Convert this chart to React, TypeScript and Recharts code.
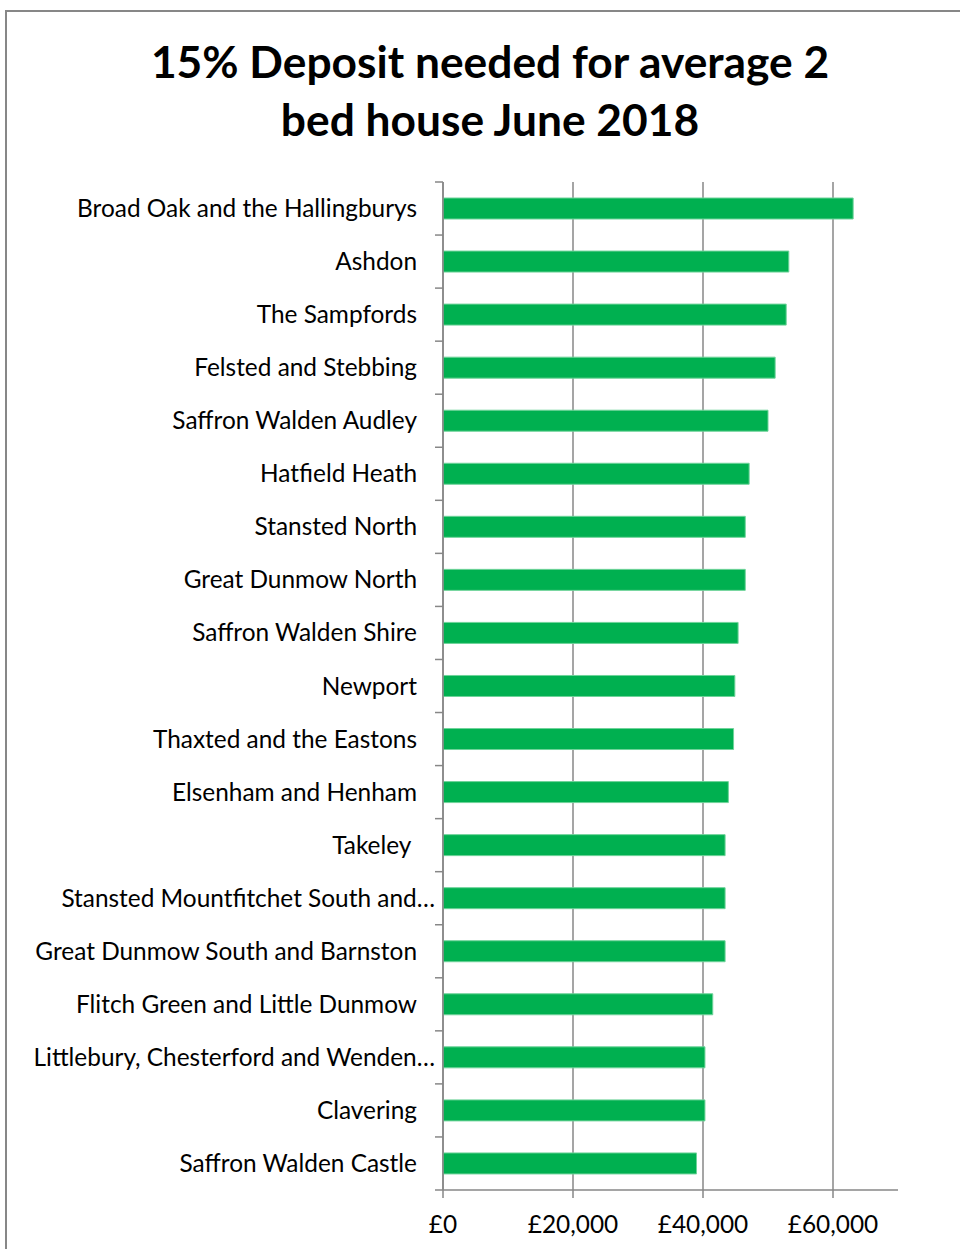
import { BarChart, Bar, XAxis, YAxis, CartesianGrid } from 'recharts';

const areas = [
  'Broad Oak and the Hallingburys',
  'Ashdon',
  'The Sampfords',
  'Felsted and Stebbing',
  'Saffron Walden Audley',
  'Hatfield Heath',
  'Stansted North',
  'Great Dunmow North',
  'Saffron Walden Shire',
  'Newport',
  'Thaxted and the Eastons',
  'Elsenham and Henham',
  'Takeley ',
  'Stansted Mountfitchet South and…',
  'Great Dunmow South and Barnston',
  'Flitch Green and Little Dunmow',
  'Littlebury, Chesterford and Wenden…',
  'Clavering',
  'Saffron Walden Castle',
];

const deposits = [
  63100, 53200, 52800, 51100, 50000, 47100, 46500, 46500, 45400, 44900,
  44700, 43900, 43400, 43400, 43400, 41500, 40300, 40300, 39000,
];

const xTicks = [0, 20000, 40000, 60000];
const X_MAX = 70000;

const data = areas.map((area, i) => ({ area, deposit: deposits[i] }));

const W = 960;
const H = 1249;
const X_AXIS_H = 59;
const MARGIN = { top: 182, right: 62, bottom: 0, left: 0 };
const AXIS_X = 443;
const BAND = (H - MARGIN.top - X_AXIS_H) / areas.length;
const GREY = '#878787';
const FONT = 'Lato, Carlito, Calibri, sans-serif';

function AreaTick(props: any) {
  const { y, payload, index } = props;
  const top = y - BAND / 2;
  const clipped = payload.value.endsWith('…');
  return (
    <g>
      <line x1={AXIS_X - 8} x2={AXIS_X} y1={top} y2={top} stroke={GREY} strokeWidth={1.5} />
      {index === areas.length - 1 && (
        <line x1={AXIS_X - 8} x2={AXIS_X} y1={top + BAND} y2={top + BAND} stroke={GREY} strokeWidth={1.5} />
      )}
      <text
        x={clipped ? AXIS_X - 8 : AXIS_X - 26}
        y={y}
        dy="0.35em"
        textAnchor="end"
        fontSize={24.4}
        fontFamily={FONT}
        fill="#000"
        style={{ whiteSpace: 'pre' }}
      >
        {payload.value}
      </text>
    </g>
  );
}

// grid only at the value ticks, not at the plot's right edge
function gridXs({ offset }: any) {
  return xTicks.map((t) => offset.left + (offset.width * t) / X_MAX);
}

export default function App() {
  return (
    <div style={{ position: 'absolute', left: 0, top: 0, width: W, height: H, background: '#fff', overflow: 'hidden' }}>
      {/* chart frame: only left and top edges fall inside the picture */}
      <div
        style={{
          position: 'absolute',
          left: 5,
          top: 10,
          width: W,
          height: H,
          borderLeft: `2px solid ${GREY}`,
          borderTop: `2px solid ${GREY}`,
        }}
      />
      <div
        style={{
          position: 'absolute',
          left: 0,
          top: 32,
          width: 980,
          textAlign: 'center',
          fontFamily: FONT,
          fontWeight: 700,
          fontSize: 44.3,
          lineHeight: '58px',
          color: '#000',
        }}
      >
        15% Deposit needed for average 2
        <br />
        bed house June 2018
      </div>
      <div style={{ position: 'absolute', left: 0, top: 0 }}>
        <BarChart width={W} height={H} data={data} layout="vertical" margin={MARGIN}>
          <CartesianGrid
            horizontal={false}
            stroke={GREY}
            strokeWidth={1.5}
            verticalCoordinatesGenerator={gridXs}
          />
          <XAxis
            type="number"
            domain={[0, X_MAX]}
            ticks={xTicks}
            allowDataOverflow
            height={X_AXIS_H}
            axisLine={{ stroke: GREY, strokeWidth: 1.5 }}
            tickLine={{ stroke: GREY, strokeWidth: 1.5 }}
            tickSize={8}
            tickMargin={18}
            tick={{ fontSize: 24.4, fill: '#000', fontFamily: FONT }}
            tickFormatter={(v: number) => `£${v.toLocaleString('en-GB')}`}
          />
          <YAxis
            type="category"
            dataKey="area"
            width={AXIS_X}
            axisLine={{ stroke: GREY, strokeWidth: 1.5 }}
            tickLine={false}
            interval={0}
            tick={AreaTick}
          />
          <Bar
            dataKey="deposit"
            fill="#00B050"
            stroke="#6fd39a"
            strokeWidth={1}
            barSize={21}
            isAnimationActive={false}
          />
        </BarChart>
      </div>
    </div>
  );
}
